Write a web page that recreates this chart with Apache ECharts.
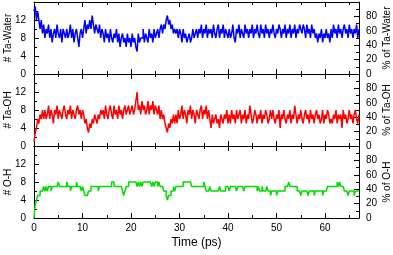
<!DOCTYPE html>
<html><head><meta charset="utf-8">
<script src="https://cdn.jsdelivr.net/npm/echarts@6/dist/echarts.min.js"></script>
<style>html,body{margin:0;padding:0;background:#fff}#c{width:393px;height:255px}</style>
</head><body><div id="c"></div>
<script>
const dt = 0.25; // ps between samples
const xTicks = [0, 10, 20, 30, 40, 50, 60];
const panelNames = ['# Ta-Water', '# Ta-OH', '# O-H'];
const pctNames = ['% of Ta-Water', '% of Ta-OH', '% of O-H'];
const xTitle = 'Time (ps)';

const taWater = [
14,15,12,14,12,10,12,9,11,
8,10,9,11,8,10,7,9,10,8,11,9,8,10,7,10,9,8,10,8,9,11,8,10,7,9,10,8,6,9,10,8,
10,12,9,11,10,12,10,13,11,9,11,10,
9,11,8,10,9,7,10,8,9,7,10,8,7,9,8,10,
7,9,6,8,9,7,8,6,9,7,8,6,9,7,8,6,5,9,7,8,
8,10,7,9,8,7,10,8,9,7,10,8,9,10,8,10,11,9,11,10,
12,13,11,12,10,11,9,10,
9,10,8,10,9,7,10,8,9,7,8,9,7,8,10,8,9,10,8,10,
9,11,8,10,9,11,8,10,9,10,8,11,
9,8,10,11,8,10,9,11,8,10,9,8,
10,8,9,11,8,7,10,9,11,8,10,9,
8,11,9,10,8,10,9,11,8,10,9,11,
9,8,11,9,10,8,11,9,10,8,10,9,
11,9,8,10,9,11,10,8,10,9,11,8,
10,9,11,8,10,9,11,8,10,9,11,10,
9,11,10,8,11,9,10,8,11,9,10,8,
9,7,9,8,10,7,9,8,10,8,9,7,
10,8,11,9,10,8,11,9,10,8,10,11,
9,10,8,11,9,10,8,10,9,11,8,10
];
const taOH = [
1,3,4,6,5,7,6,8,6,
8,6,7,9,6,8,7,5,8,7,9,6,8,7,6,8,9,7,6,8,7,9,6,8,7,6,8,9,7,8,6,8,
7,5,6,4,3,5,4,6,5,7,6,5,7,6,8,7,
8,6,9,7,6,8,9,7,6,9,7,8,6,9,7,8,6,8,9,7,8,9,7,8,
9,7,8,10,12,8,9,7,10,8,9,7,8,10,7,9,8,10,7,9,8,7,9,6,8,6,7,5,
4,3,5,4,6,5,7,5,
7,5,8,6,7,9,6,8,7,5,8,7,9,6,8,7,5,8,7,6,8,9,6,8,7,9,6,8,
6,4,7,5,6,7,5,6,4,7,6,5,7,6,8,5,
7,5,8,6,7,5,8,6,7,8,5,7,
6,8,5,7,6,9,7,5,6,8,7,5,
7,6,8,5,7,6,8,7,5,6,8,6,
8,6,5,7,6,8,4,7,6,8,6,5,
7,6,8,5,7,6,9,7,5,7,6,8,
6,5,7,8,6,7,5,8,6,7,5,7,
8,6,7,5,6,8,5,7,6,8,7,5,
6,5,7,6,8,5,7,6,7,4,8,6,
7,5,6,8,6,7,5,7,8,6,5,7
];
const oH = [
0,3,4,5,5,6,6,6,7,
6,7,6,7,7,6,7,7,
7,7,7,8,7,7,7,7,7,7,8,7,7,6,7,7,7,7,8,7,7,7,6,7,
6,5,5,5,6,6,7,
7,7,7,7,7,6,7,7,7,7,7,7,7,7,7,7,
8,8,7,7,7,7,7,7,7,
6,5,6,7,
7,8,8,8,8,8,8,8,7,8,
7,8,7,8,8,
8,8,8,8,8,
7,8,7,8,8,7,8,7,
7,7,6,6,
5,4,5,5,
6,6,7,6,7,7,7,7,7,7,
8,8,8,8,8,8,8,
7,7,7,7,7,7,7,7,7,7,
8,7,
6,6,6,7,6,6,6,6,6,6,6,7,6,6,6,6,
7,7,7,6,7,7,7,7,7,6,7,7,7,7,7,6,7,7,7,7,7,7,7,7,7,7,
6,7,6,6,7,6,6,6,7,
6,6,5,6,6,6,6,5,6,6,6,6,6,6,
7,7,7,8,7,7,7,7,7,7,
6,6,6,5,6,6,6,6,6,5,6,6,6,6,5,6,6,6,6,6,6,5,6,6,6,
7,7,7,7,7,7,7,7,8,7,8,7,7,7,
6,6,6,5,6,6,6,6,5,6,6,6,6
];
const seriesData = [taWater, taOH, oH];
const colors = ['#0000ff', '#ff0000', '#00dd00'];

const FONT = 'Liberation Sans, Arial, sans-serif';
const chart = echarts.init(document.getElementById('c'), null, {renderer: 'canvas'});
const grids = [], xAxes = [], yAxes = [], series = [];
const TOP = 2, H = 72, LEFT = 34, RIGHT = 34;
for (let i = 0; i < 3; i++) {
  grids.push({left: LEFT, right: RIGHT, top: TOP + H * i, height: H, containLabel: false, outerBoundsMode: 'none'});
  const base = {gridIndex: i, type: 'value', min: 0, max: 67, splitLine: {show: false},
    axisLine: {onZero: false, lineStyle: {color: '#000', width: 1}}};
  xAxes.push(Object.assign({}, base, {position: 'bottom', interval: 10,
    axisTick: {inside: true, length: 5, lineStyle: {color: '#000'}},
    axisLabel: {show: i === 2, color: '#000', fontFamily: FONT, fontSize: 10, margin: 5,
      formatter: v => xTicks.includes(v) ? String(v) : ''},
    name: i === 2 ? xTitle : '', nameLocation: 'middle', nameGap: 19, nameMoveOverlap: false,
    nameTextStyle: {color: '#000', fontFamily: FONT, fontSize: 12}}));
  xAxes.push(Object.assign({}, base, {position: 'bottom', interval: 5,
    axisLine: {show: false, onZero: false}, axisLabel: {show: false},
    axisTick: {inside: true, length: 3, lineStyle: {color: '#000'}}}));
  xAxes.push(Object.assign({}, base, {position: 'top', interval: 10,
    axisTick: {inside: true, length: 5, lineStyle: {color: '#000'}}, axisLabel: {show: false}}));
  xAxes.push(Object.assign({}, base, {position: 'top', interval: 5,
    axisLine: {show: false, onZero: false}, axisLabel: {show: false},
    axisTick: {inside: true, length: 3, lineStyle: {color: '#000'}}}));
  yAxes.push({gridIndex: i, type: 'value', position: 'left', min: 0, max: 16, interval: 4,
    splitLine: {show: false},
    axisLine: {onZero: false, lineStyle: {color: '#000', width: 1}},
    axisTick: {inside: true, length: 5, lineStyle: {color: '#000'}},
    minorTick: {show: true, splitNumber: 2, length: 3, lineStyle: {color: '#000'}},
    axisLabel: {color: '#000', fontFamily: FONT, fontSize: 10, margin: 8,
      formatter: v => v === 16 ? '' : String(v)},
    name: panelNames[i], nameLocation: 'middle', nameGap: 21, nameRotate: 90, nameMoveOverlap: false,
    nameTextStyle: {color: '#000', fontFamily: FONT, fontSize: 10}});
  yAxes.push({gridIndex: i, type: 'value', position: 'right', min: 0, max: 100, interval: 20,
    splitLine: {show: false},
    axisLine: {onZero: false, lineStyle: {color: '#000', width: 1}},
    axisTick: {inside: true, length: 5, lineStyle: {color: '#000'}},
    minorTick: {show: true, splitNumber: 2, length: 3, lineStyle: {color: '#000'}},
    axisLabel: {color: '#000', fontFamily: FONT, fontSize: 10, margin: 7,
      formatter: v => v === 100 ? '' : String(v)},
    name: pctNames[i], nameLocation: 'middle', nameGap: 23, nameRotate: 90, nameMoveOverlap: false,
    nameTextStyle: {color: '#000', fontFamily: FONT, fontSize: 10}});
  series.push({type: 'line', xAxisIndex: i * 4, yAxisIndex: i * 2,
    data: seriesData[i].map((v, k) => [k * dt, v]),
    step: 'end', showSymbol: false, symbol: 'none', clip: true,
    lineStyle: {color: colors[i], width: 1.5}, z: 1});
}
chart.setOption({animation: false, backgroundColor: '#fff', grid: grids, xAxis: xAxes, yAxis: yAxes, series: series});
</script></body></html>
